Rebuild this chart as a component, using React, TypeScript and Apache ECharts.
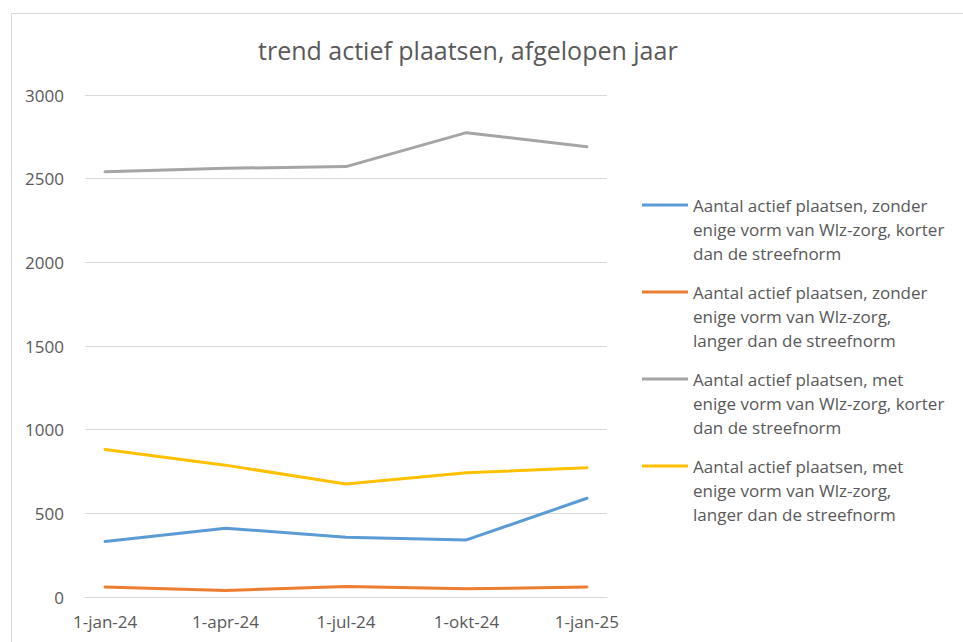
import React, { useEffect, useRef } from "react";
import * as echarts from "echarts";

const months = [
  "1-jan-24", "1-feb-24", "1-mrt-24", "1-apr-24", "1-mei-24", "1-jun-24", "1-jul-24",
  "1-aug-24", "1-sep-24", "1-okt-24", "1-nov-24", "1-dec-24", "1-jan-25",
];
const pointDates = ["1-jan-24", "1-apr-24", "1-jul-24", "1-okt-24", "1-jan-25"];

const seriesNames = [
  "Aantal actief plaatsen, zonder\nenige vorm van Wlz-zorg, korter\ndan de streefnorm",
  "Aantal actief plaatsen, zonder\nenige vorm van Wlz-zorg,\nlanger dan de streefnorm",
  "Aantal actief plaatsen, met\nenige vorm van Wlz-zorg, korter\ndan de streefnorm",
  "Aantal actief plaatsen, met\nenige vorm van Wlz-zorg,\nlanger dan de streefnorm",
];
const zonderKorter = [331, 411, 357, 341, 590];
const zonderLanger = [60, 39, 63, 49, 60];
const metKorter = [2542, 2562, 2572, 2775, 2691];
const metLanger = [882, 788, 675, 743, 772];
const colors = ["#5B9BD5", "#ED7D31", "#A5A5A5", "#FFC000"];

const FONT = "'Open Sans', 'Noto Sans', sans-serif";
const TXT = "#595959";

function toMonthly(values: number[]) {
  return months.map((m) => {
    const i = pointDates.indexOf(m);
    return i >= 0 ? values[i] : null;
  });
}

export default function App() {
  const ref = useRef<HTMLDivElement>(null);
  useEffect(() => {
    if (!ref.current) return;
    const chart = echarts.init(ref.current, undefined, { renderer: "svg" });
    const all = [zonderKorter, zonderLanger, metKorter, metLanger];
    const legendIcon =
      "path://M0,0h0.01v0.01h-0.01z M0,10.5h46v3h-46z M45.99,71.99h0.01v0.01h-0.01z";
    chart.setOption({
      animation: false,
      backgroundColor: "#ffffff",
      textStyle: { fontFamily: FONT },
      title: {
        text: "trend actief plaatsen, afgelopen jaar",
        left: 258,
        top: 37,
        padding: 0,
        textStyle: { fontFamily: FONT, fontSize: 25, fontWeight: "normal", color: TXT },
      },
      graphic: [
        {
          type: "rect",
          shape: { x: 11.5, y: 13.5, width: 1000, height: 700 },
          style: { fill: "none", stroke: "#d9d9d9", lineWidth: 1 },
          silent: true,
        },
      ],
      legend: {
        orient: "vertical",
        left: 642,
        top: 193,
        padding: 0,
        itemGap: 15,
        itemWidth: 46,
        itemHeight: 72,
        icon: legendIcon,
        itemStyle: { borderWidth: 0 },
        textStyle: { fontFamily: FONT, fontSize: 17, color: TXT, lineHeight: 24 },
        data: seriesNames,
      },
      grid: { left: 85, right: 356, top: 95, bottom: 45, containLabel: false },
      xAxis: {
        type: "category",
        data: months,
        boundaryGap: true,
        axisLine: { lineStyle: { color: "#d9d9d9", width: 1 } },
        axisTick: { interval: 2, length: 5, lineStyle: { color: "#d9d9d9" } },
        axisLabel: { interval: 2, color: TXT, fontSize: 17, fontFamily: FONT, margin: 16 },
        splitLine: { show: false },
      },
      yAxis: {
        type: "value",
        min: 0,
        max: 3000,
        interval: 500,
        axisLine: { show: false },
        axisTick: { show: false },
        axisLabel: {
          color: TXT,
          fontSize: 17,
          fontFamily: FONT,
          margin: 21,
          formatter: (v: number) => String(v),
        },
        splitLine: { lineStyle: { color: "#d9d9d9", width: 1 } },
      },
      series: seriesNames.map((name, i) => ({
        name,
        type: "line",
        data: toMonthly(all[i]),
        connectNulls: true,
        showSymbol: false,
        symbol: "none",
        color: colors[i],
        lineStyle: { color: colors[i], width: 3, cap: "round", join: "round" },
        itemStyle: { color: colors[i] },
      })),
    });
    return () => chart.dispose();
  }, []);
  return (
    <div
      ref={ref}
      style={{ position: "fixed", left: 0, top: 0, width: 963, height: 642 }}
    />
  );
}
